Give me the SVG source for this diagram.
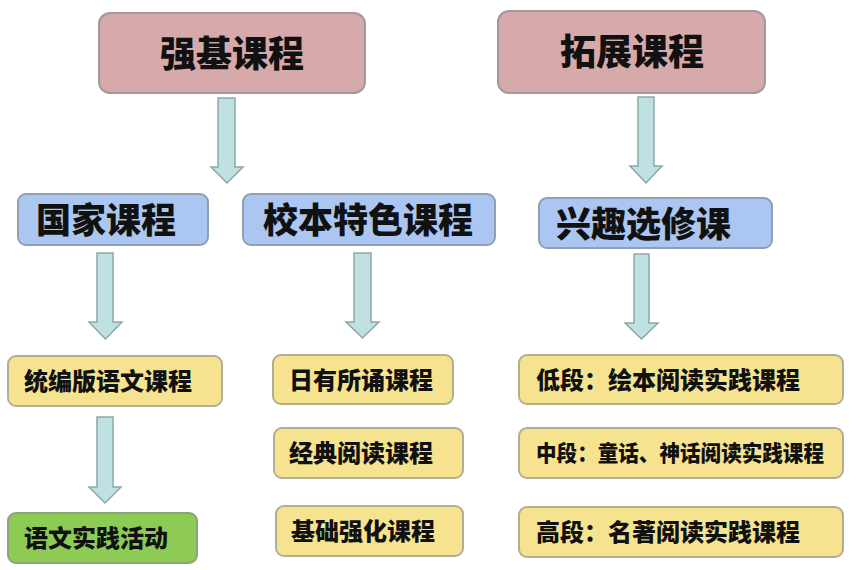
<svg xmlns="http://www.w3.org/2000/svg" width="861" height="570" viewBox="0 0 861 570">
<style>
text{font-family:"Noto Sans CJK SC","Noto Sans",sans-serif;font-weight:900;fill:#111;dominant-baseline:central}
.red{fill:#d6a9aa;stroke:#a3999a;stroke-width:2}
.blue{fill:#abc6f0;stroke:#8fa0b6;stroke-width:2}
.yel{fill:#f6e38f;stroke:#b3ad93;stroke-width:2}
.grn{fill:#8dcb55;stroke:#8aa47a;stroke-width:2}
.arr{fill:#bfe1e1;stroke:#8fa6a6;stroke-width:1.5}
.t1{font-size:36px}
.t2{font-size:35px}
.t3{font-size:24px}
.t4{font-size:22px}
</style>
<rect width="861" height="570" fill="#fff"/>
<g id="connectors">
<path class="arr" d="M218,98 H235 V167 H243 L227,183 L211,167 H218 Z"/>
<path class="arr" d="M638,97 H654 V166 H662 L646,183 L630,166 H638 Z"/>
<path class="arr" d="M97,253 H113 V322 H122 L105.5,339 L89,322 H97 Z"/>
<path class="arr" d="M354,253 H371 V322 H379 L362.5,338 L346,322 H354 Z"/>
<path class="arr" d="M634,254 H649 V323 H658 L641.5,339 L625,323 H634 Z"/>
<path class="arr" d="M97,417 H113 V487 H121 L105,503 L89,487 H97 Z"/>
</g>
<g id="n-qiangji"><rect class="red" x="99" y="13" width="266" height="80" rx="11"/><text class="t1" x="232" y="51" text-anchor="middle">强基课程</text></g>
<g id="n-tuozhan"><rect class="red" x="498" y="11" width="267" height="82" rx="11"/><text class="t1" x="632" y="49" text-anchor="middle">拓展课程</text></g>
<g id="n-guojia"><rect class="blue" x="18" y="194" width="190" height="51" rx="8"/><text class="t2" x="36" y="217">国家课程</text></g>
<g id="n-xiaoben"><rect class="blue" x="243" y="194" width="252" height="51" rx="8"/><text class="t2" x="368" y="217" text-anchor="middle">校本特色课程</text></g>
<g id="n-xingqu"><rect class="blue" x="539" y="198" width="233" height="50" rx="8"/><text class="t2" x="556" y="221">兴趣选修课</text></g>
<g id="n-tongbian"><rect class="yel" x="8" y="356" width="214" height="50" rx="8"/><text class="t3" x="24" y="379">统编版语文课程</text></g>
<g id="n-yuwen"><rect class="grn" x="8" y="513" width="189" height="50" rx="8"/><text class="t3" x="24" y="536">语文实践活动</text></g>
<g id="n-riyou"><rect class="yel" x="273" y="355" width="180" height="49" rx="8"/><text class="t3" x="289" y="378">日有所诵课程</text></g>
<g id="n-jingdian"><rect class="yel" x="274" y="428" width="189" height="50" rx="8"/><text class="t3" x="289" y="451">经典阅读课程</text></g>
<g id="n-jichu"><rect class="yel" x="276" y="506" width="187" height="50" rx="8"/><text class="t3" x="291" y="529">基础强化课程</text></g>
<g id="n-di"><rect class="yel" x="519" y="355" width="324" height="49" rx="8"/><text class="t3" x="536" y="378">低段：绘本阅读实践课程</text></g>
<g id="n-zhong"><rect class="yel" x="519" y="428" width="324" height="50" rx="8"/><text class="t4" x="536" y="451" textLength="288" lengthAdjust="spacingAndGlyphs">中段：童话、神话阅读实践课程</text></g>
<g id="n-gao"><rect class="yel" x="519" y="507" width="324" height="50" rx="8"/><text class="t3" x="536" y="530">高段：名著阅读实践课程</text></g>
</svg>
